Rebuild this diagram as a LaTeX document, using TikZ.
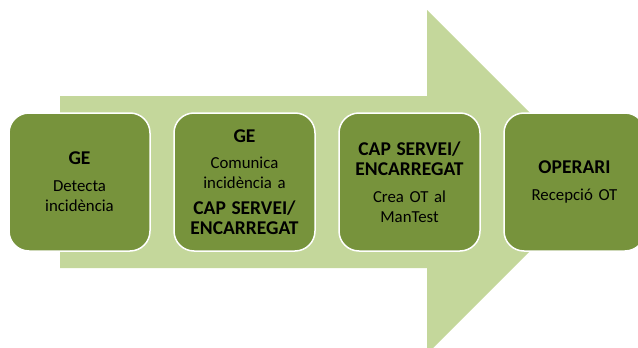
\documentclass[tikz,border=0pt]{standalone}
\usepackage{fontspec}
\setmainfont{Carlito}
\definecolor{fletxa}{HTML}{C4D79B}
\definecolor{caixa}{HTML}{77933C}
\newcommand{\rol}[1]{{\fontsize{19.5}{21}\selectfont\bfseries #1}}

\begin{document}
\begin{tikzpicture}
  [x=1pt,y=-1pt,
   every node/.style={font=\fontsize{16.8}{20}\selectfont,text=black},
   pas/.style={draw=white,line width=1.5pt,fill=caixa,rounded corners=20pt,
     minimum width=141pt,minimum height=138pt,text width=138pt,
     align=center,inner sep=0pt}]

  \useasboundingbox (0,0) rectangle (638,348);

  % fletxa de fons
  \fill [fletxa] (60,96) -- (427,96) -- (427,10) -- (599,182)
    -- (427,354) -- (427,268) -- (60,268) -- cycle;

  \node [pas] (ge) at (79.5,182) {\rol{GE}\\[7pt] Detecta\\ incidència};
  \node [pas] (comunica) at (244.5,182) {\rol{GE}\\[6pt] Comunica\\ incidència a\\[6pt]
    \rol{CAP SERVEI/}\\ \rol{ENCARREGAT}};
  \node [pas] (crea) at (409.5,182) {\rol{CAP SERVEI/}\\ \rol{ENCARREGAT}\\[7pt]
    Crea OT al\\ ManTest};
  \node [pas] (operari) at (574.5,182) {\rol{OPERARI}\\[7pt] Recepció OT};
\end{tikzpicture}
\end{document}
